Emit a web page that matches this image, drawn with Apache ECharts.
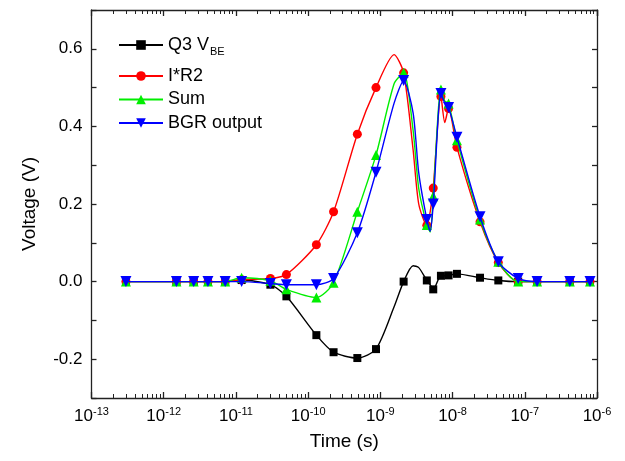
<!DOCTYPE html>
<html>
<head>
<meta charset="utf-8">
<script src="https://cdn.jsdelivr.net/npm/echarts@6/dist/echarts.min.js"></script>
<style>
html,body{margin:0;padding:0;background:#fff;}
#chart{width:625px;height:461px;}
</style>
</head>
<body>
<div id="chart"></div>
<script>
// Time samples (s), shared by all series
var times = [3e-13, 1.5e-12, 2.6e-12, 4.1e-12, 7.1e-12, 1.2e-11, 3e-11, 5e-11, 1.3e-10, 2.25e-10,
  4.8e-10, 8.7e-10, 1.55e-9, 2.1e-9, 2.84e-9, 3.4e-9, 4.4e-9, 4.9e-9, 5.4e-9, 6.9e-9,
  7.8e-9, 8.8e-9, 1.15e-8, 2.4e-8, 4.3e-8, 8.1e-8, 1.48e-7, 4.2e-7, 8e-7];
// whether a sample carries a marker
var marked = [1,1,1,1,1,1,1,1,1,1, 1,1,0,1,0,0,1,0,1,1, 0,1,1,1,1,1,1,1,1];

var q3Vbe = [0, 0, 0, 0, 0, 0.004, -0.008, -0.038, -0.138, -0.182,
  -0.197, -0.174, -0.065, 0.0, 0.041, 0.036, 0.003, -0.008, -0.02, 0.015,
  0.015, 0.016, 0.02, 0.01, 0.003, 0.0, 0, 0, 0];
var iR2 = [0, 0, 0, 0, 0, 0.005, 0.008, 0.018, 0.095, 0.18,
  0.38, 0.5, 0.585, 0.538, 0.34, 0.2, 0.145, 0.18, 0.241, 0.477,
  0.41, 0.446, 0.346, 0.154, 0.049, 0, 0, 0, 0];
var sumV = [0, 0, 0, 0, 0, 0.01, 0.002, -0.02, -0.041, -0.003,
  0.18, 0.326, 0.51, 0.538, 0.39, 0.24, 0.146, 0.128, 0.22, 0.495,
  0.465, 0.459, 0.364, 0.16, 0.051, 0, 0, 0, 0];
var bgrOut = [0, 0, 0, 0, 0, 0, -0.005, -0.008, -0.008, 0.008,
  0.126, 0.282, 0.46, 0.518, 0.435, 0.28, 0.16, 0.13, 0.2, 0.485,
  0.46, 0.449, 0.372, 0.167, 0.051, 0.008, 0, 0, 0];

var seriesNames = ['Q3 VBE', 'I*R2', 'Sum', 'BGR output'];
var xMin = 1e-13, xMax = 1e-6;
var yMin = -0.3, yMax = 0.7, yStep = 0.1;

function build(vals) {
  return times.map(function (t, i) {
    var item = { value: [t, vals[i]] };
    if (!marked[i]) item.symbol = 'none';
    return item;
  });
}

var FONT = 'Liberation Sans, Arial, sans-serif';

function xLabel(v) {
  return '{b|10}{s|' + Math.round(Math.log10(v)) + '}';
}
function yLabel(v) {
  var k = Math.round(v * 10);
  return (k % 2 === 0) ? (k / 10).toFixed(1) : '';
}

var axisLineStyle = { color: '#222', width: 1.3 };

var legendText = {
  fontFamily: FONT, fontSize: 18, color: '#000',
  rich: {
    n: { fontFamily: FONT, fontSize: 18, color: '#000' },
    s: { fontFamily: FONT, fontSize: 11, color: '#000', padding: [14, 0, 0, 1] }
  }
};
function legendFmt(name) {
  if (name === 'Q3 VBE') return '{n|Q3 V}{s|BE}';
  return '{n|' + name + '}';
}

var chart = echarts.init(document.getElementById('chart'));
chart.setOption({
  animation: false,
  backgroundColor: '#fff',
  grid: { left: 91.5, right: 28, top: 10, bottom: 63 },
  legend: [{
    orient: 'vertical', left: 118, top: 36, padding: 0,
    itemWidth: 44, itemHeight: 12, itemGap: 6,
    data: seriesNames.slice(0, 1),
    textStyle: legendText, formatter: legendFmt
  }, {
    orient: 'vertical', left: 118, top: 67, padding: 0,
    itemWidth: 44, itemHeight: 12, itemGap: 5.5,
    data: seriesNames.slice(1),
    textStyle: legendText, formatter: legendFmt
  }],
  xAxis: [{
    type: 'log', logBase: 10, min: xMin, max: xMax, splitNumber: 7,
    position: 'bottom',
    name: 'Time (s)', nameLocation: 'middle', nameGap: 34,
    nameTextStyle: { fontFamily: FONT, fontSize: 19, color: '#000' },
    axisLine: { onZero: false, lineStyle: axisLineStyle },
    axisTick: { inside: true, length: 6, lineStyle: axisLineStyle },
    minorTick: { show: true, splitNumber: 9, length: 4, lineStyle: { color: '#222', width: 1 } },
    splitLine: { show: false },
    axisLabel: {
      formatter: xLabel, margin: 8, color: '#000',
      rich: {
        b: { fontFamily: FONT, fontSize: 17, color: '#000' },
        s: { fontFamily: FONT, fontSize: 11, color: '#000', padding: [0, 0, 10, 0] }
      }
    }
  }, {
    type: 'log', logBase: 10, min: xMin, max: xMax, splitNumber: 7,
    position: 'top',
    axisLine: { onZero: false, lineStyle: axisLineStyle },
    axisTick: { inside: true, length: 6, lineStyle: axisLineStyle },
    minorTick: { show: true, splitNumber: 9, length: 4, lineStyle: { color: '#222', width: 1 } },
    splitLine: { show: false },
    axisLabel: { show: false }
  }],
  yAxis: [{
    type: 'value', min: yMin, max: yMax, interval: yStep,
    position: 'left',
    name: 'Voltage (V)', nameLocation: 'middle', nameGap: 52,
    nameTextStyle: { fontFamily: FONT, fontSize: 19, color: '#000' },
    axisLine: { show: true, onZero: false, lineStyle: axisLineStyle },
    axisTick: { show: true, inside: true, length: 5, lineStyle: axisLineStyle },
    splitLine: { show: false },
    axisLabel: { formatter: yLabel, fontFamily: FONT, fontSize: 17, color: '#000', margin: 9 }
  }, {
    type: 'value', min: yMin, max: yMax, interval: yStep,
    position: 'right',
    axisLine: { show: true, onZero: false, lineStyle: axisLineStyle },
    axisTick: { show: true, inside: true, length: 5, lineStyle: axisLineStyle },
    splitLine: { show: false },
    axisLabel: { show: false }
  }],
  series: [{
    name: 'Q3 VBE', type: 'line', data: build(q3Vbe), smooth: 0.25,
    symbol: 'rect', symbolSize: 8,
    color: '#000000', lineStyle: { width: 1.4, color: '#000000' },
    itemStyle: { color: '#000000' }, z: 2
  }, {
    name: 'I*R2', type: 'line', data: build(iR2), smooth: 0.25,
    symbol: 'circle', symbolSize: 9,
    color: '#ff0000', lineStyle: { width: 1.4, color: '#ff0000' },
    itemStyle: { color: '#ff0000' }, z: 3
  }, {
    name: 'Sum', type: 'line', data: build(sumV), smooth: 0.25,
    symbol: 'triangle', symbolSize: 10,
    color: '#00ee00', lineStyle: { width: 1.4, color: '#00ee00' },
    itemStyle: { color: '#00ee00' }, z: 4
  }, {
    name: 'BGR output', type: 'line', data: build(bgrOut), smooth: 0.25,
    symbol: 'triangle', symbolRotate: 180, symbolSize: 11,
    color: '#0000ff', lineStyle: { width: 1.4, color: '#0000ff' },
    itemStyle: { color: '#0000ff' }, z: 5
  }]
});
</script>
</body>
</html>
